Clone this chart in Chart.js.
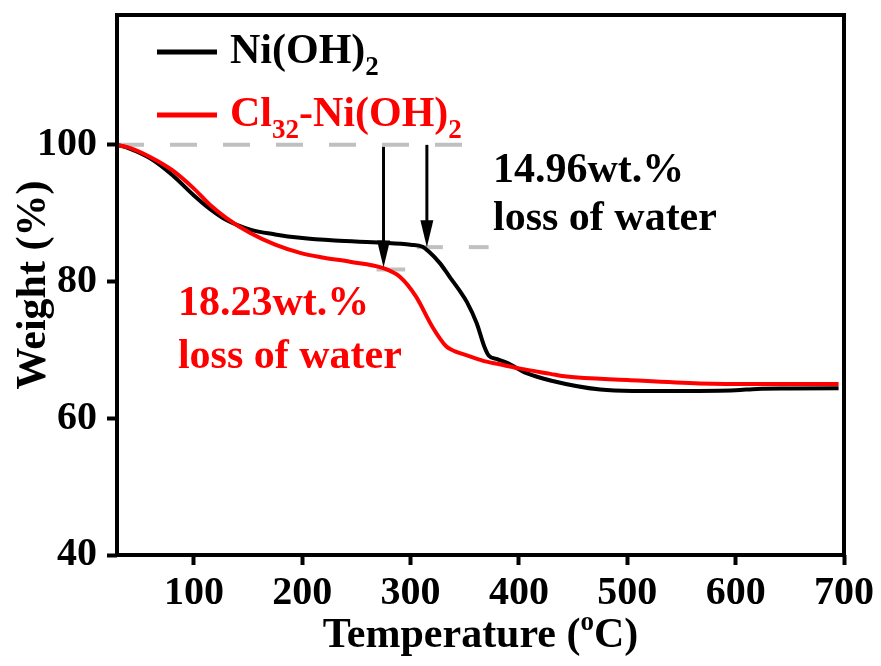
<!DOCTYPE html>
<html>
<head>
<meta charset="utf-8">
<title>TGA</title>
<script src="https://cdn.jsdelivr.net/npm/chart.js@4.4.1/dist/chart.umd.min.js"></script>
<style>
  html, body { margin: 0; padding: 0; background: #fff; }
  #wrap { width: 881px; height: 666px; position: relative; }
</style>
</head>
<body>
<div id="wrap"><canvas id="tgaChart"></canvas></div>
<script>
// TGA curves: temperature (°C) vs remaining weight (%)
const tempNi   = [29, 40, 60, 80, 100, 115, 130, 152, 175, 198, 230, 274, 300, 311, 316, 327, 336, 346, 352, 361, 368, 372, 380, 389, 407, 430, 475, 505, 550, 600, 620, 650, 695];
const weightNi = [100, 99.5, 98.0, 95.6, 92.6, 90.6, 89.0, 87.6, 86.9, 86.4, 86.0, 85.7, 85.4, 85.1, 84.5, 82.7, 80.7, 78.5, 77.0, 73.9, 70.5, 69.2, 68.65, 68.1, 66.6, 65.5, 64.2, 64.0, 64.0, 64.1, 64.3, 64.35, 64.4];

const tempCl   = [29, 40, 60, 80, 100, 115, 130, 152, 175, 198, 220, 244, 274, 290, 305, 320, 333, 341, 352, 367, 382, 400, 429, 444, 500, 567, 620, 695];
const weightCl = [100, 99.6, 98.2, 96.3, 93.6, 91.2, 89.3, 87.1, 85.4, 84.2, 83.5, 82.9, 82.0, 80.7, 77.8, 73.4, 70.5, 69.8, 69.2, 68.4, 67.9, 67.3, 66.5, 66.1, 65.6, 65.1, 65.0, 65.0];

const xTicks = [100, 200, 300, 400, 500, 600, 700];
const yTicks = [40, 60, 80, 100];

// water loss marked on each curve
const lossNi = 14.96;
const lossCl = 18.23;
const arrowTempNi = 315;
const arrowTempCl = 275;

const FONT = '"Liberation Serif", "Times New Roman", serif';
const GRAY = '#c0c0c0';
const RED = '#ff0000';

const pts = (xs, ys) => xs.map((x, i) => ({ x: x, y: ys[i] }));

// draw text made of normal / subscript / superscript runs
function drawRuns(ctx, x, y, runs, size) {
    runs.forEach(r => {
        const s = r.sub || r.sup ? Math.round(size * 0.64) : size;
        ctx.font = 'bold ' + s + 'px ' + FONT;
        const dy = r.sub ? size * 0.28 : (r.sup ? -size * 0.4 : 0);
        ctx.fillText(r.t, x, y + dy);
        x += ctx.measureText(r.t).width;
    });
    return x;
}

function runsWidth(ctx, runs, size) {
    let w = 0;
    runs.forEach(r => {
        const s = r.sub || r.sup ? Math.round(size * 0.64) : size;
        ctx.font = 'bold ' + s + 'px ' + FONT;
        w += ctx.measureText(r.t).width;
    });
    return w;
}

function arrowDown(ctx, x, y0, y1) {
    ctx.strokeStyle = '#000';
    ctx.lineWidth = 3;
    ctx.setLineDash([]);
    ctx.beginPath();
    ctx.moveTo(x, y0);
    ctx.lineTo(x, y1 - 20);
    ctx.stroke();
    ctx.fillStyle = '#000';
    ctx.beginPath();
    ctx.moveTo(x, y1);
    ctx.lineTo(x - 6.5, y1 - 27);
    ctx.lineTo(x + 6.5, y1 - 27);
    ctx.closePath();
    ctx.fill();
}

function dashed(ctx, x0, x1, y, pattern) {
    ctx.strokeStyle = GRAY;
    ctx.lineWidth = 4;
    ctx.setLineDash(pattern);
    ctx.beginPath();
    ctx.moveTo(x0, y);
    ctx.lineTo(x1, y);
    ctx.stroke();
    ctx.setLineDash([]);
}

const annotations = {
    id: 'annotations',
    beforeDatasetsDraw(chart) {
        const { ctx, scales: { x, y } } = chart;
        ctx.save();
        // reference level and plateau levels
        dashed(ctx, x.getPixelForValue(29), x.getPixelForValue(348), y.getPixelForValue(100), [27, 26]);
        dashed(ctx, x.getPixelForValue(arrowTempNi) - 10, x.getPixelForValue(372), y.getPixelForValue(100 - lossNi), [26, 26]);
        dashed(ctx, x.getPixelForValue(arrowTempCl) - 7, x.getPixelForValue(295), y.getPixelForValue(100 - lossCl), [30, 10]);
        ctx.restore();
    },
    afterDatasetsDraw(chart) {
        const { ctx, chartArea: a, scales: { x, y } } = chart;
        ctx.save();
        const top = y.getPixelForValue(100);
        arrowDown(ctx, x.getPixelForValue(arrowTempCl), top + 2, y.getPixelForValue(100 - lossCl) - 2);
        arrowDown(ctx, x.getPixelForValue(arrowTempNi), top, y.getPixelForValue(100 - lossNi));

        // loss labels
        ctx.textAlign = 'left';
        ctx.textBaseline = 'alphabetic';
        ctx.font = 'bold 42px ' + FONT;
        ctx.fillStyle = '#000';
        let tx = x.getPixelForValue(376), ty = y.getPixelForValue(94.6);
        ctx.fillText(lossNi.toFixed(2) + 'wt.%', tx, ty);
        ctx.fillText('loss of water', tx, ty + 48);
        ctx.fillStyle = RED;
        tx = x.getPixelForValue(85.2); ty = y.getPixelForValue(75.1);
        ctx.fillText(lossCl.toFixed(2) + 'wt.%', tx, ty);
        ctx.fillText('loss of water', tx, ty + 53);

        // legend
        const legend = [
            { color: '#000', y: 52, runs: [{ t: 'Ni(OH)' }, { t: '2', sub: true }] },
            { color: RED, y: 115, runs: [{ t: 'Cl' }, { t: '32', sub: true }, { t: '-Ni(OH)' }, { t: '2', sub: true }] }
        ];
        legend.forEach(item => {
            ctx.strokeStyle = item.color;
            ctx.lineWidth = 5;
            ctx.beginPath();
            ctx.moveTo(a.left + 40, item.y);
            ctx.lineTo(a.left + 100, item.y);
            ctx.stroke();
            ctx.fillStyle = item.color;
            drawRuns(ctx, a.left + 113, item.y + 11, item.runs, 42);
        });

        // frame
        ctx.strokeStyle = '#000';
        ctx.lineWidth = 4;
        ctx.strokeRect(a.left, a.top, a.right - a.left, a.bottom - a.top);

        // axis titles
        ctx.fillStyle = '#000';
        const xt = [{ t: 'Temperature (' }, { t: 'o', sup: true }, { t: 'C)' }];
        const w = runsWidth(ctx, xt, 42);
        drawRuns(ctx, (a.left + a.right) / 2 - w / 2, 647, xt, 42);

        ctx.translate(45, (a.top + a.bottom) / 2);
        ctx.rotate(-Math.PI / 2);
        ctx.font = 'bold 42px ' + FONT;
        ctx.textAlign = 'center';
        ctx.fillText('Weight (%)', 0, 0);
        ctx.restore();
    }
};

const tickFont = { family: FONT, weight: 'bold', size: 40 };

new Chart(document.getElementById('tgaChart'), {
    type: 'line',
    data: {
        datasets: [{
            label: 'Ni(OH)2',
            data: pts(tempNi, weightNi),
            borderColor: '#000',
            borderWidth: 4,
            pointRadius: 0,
            cubicInterpolationMode: 'monotone',
            order: 1
        }, {
            label: 'Cl32-Ni(OH)2',
            data: pts(tempCl, weightCl),
            borderColor: RED,
            borderWidth: 4,
            pointRadius: 0,
            cubicInterpolationMode: 'monotone',
            order: 0
        }]
    },
    options: {
        responsive: true,
        maintainAspectRatio: false,
        animation: false,
        layout: { padding: { top: 15, right: 37, left: 0, bottom: 0 } },
        plugins: {
            legend: { display: false },
            tooltip: { enabled: false }
        },
        scales: {
            x: {
                type: 'linear',
                min: 29,
                max: 700,
                afterBuildTicks: s => { s.ticks = xTicks.map(v => ({ value: v })); },
                afterFit: s => { s.height = 111; s.paddingLeft = 0; s.paddingRight = 0; },
                border: { display: false },
                grid: { drawOnChartArea: false, tickLength: 10, tickWidth: 4, tickColor: '#000' },
                ticks: { color: '#000', font: tickFont, padding: 5, maxRotation: 0 }
            },
            y: {
                type: 'linear',
                min: 40,
                max: 119,
                afterBuildTicks: s => { s.ticks = yTicks.map(v => ({ value: v })); },
                afterFit: s => { s.width = 117; s.paddingTop = 0; s.paddingBottom = 0; },
                border: { display: false },
                grid: { drawOnChartArea: false, tickLength: 10, tickWidth: 4, tickColor: '#000' },
                ticks: { color: '#000', font: tickFont, padding: 10 }
            }
        }
    },
    plugins: [annotations]
});
</script>
</body>
</html>
